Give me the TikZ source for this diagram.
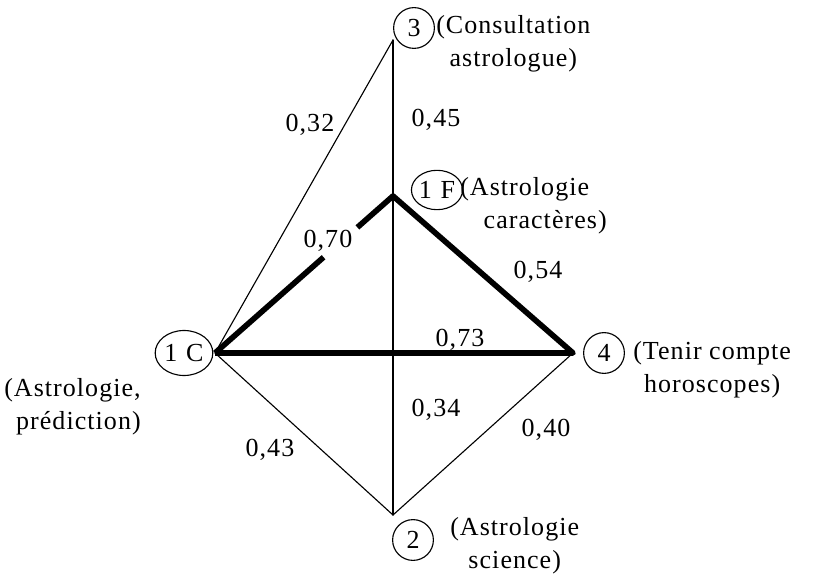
\documentclass[tikz,border=0pt]{standalone}
\usepackage{fontspec}
\setmainfont[LetterSpace=4]{Liberation Serif}
\usetikzlibrary{positioning,shapes.geometric,calc}

\begin{document}
\begin{tikzpicture}[x=0.025cm, y=-0.025cm, line cap=round, line join=round, every node/.style={font=\fontsize{18.5}{23.5}\selectfont}]
\useasboundingbox (0,0) rectangle (826,576);
% vertices of the graph
\coordinate (v3) at (393,40);
\coordinate (vF) at (393,196);
\coordinate (vC) at (215,353);
\coordinate (v4) at (573,353);
\coordinate (v2) at (393,515);
% circled variables
\node[draw, ellipse, thick, inner sep=0pt, minimum width=29pt, minimum height=29pt] (c3) at (414,28) {3};
\node[draw, ellipse, thick, inner sep=0pt, minimum width=34pt, minimum height=28pt] (cF) at (437,190) {1\,\,F};
\node[draw, ellipse, thick, inner sep=0pt, minimum width=41pt, minimum height=32pt] (cC) at (184,353) {1\,\,C};
\node[draw, ellipse, thick, inner sep=0pt, minimum width=29pt, minimum height=29pt] (c4) at (604,353) {4};
\node[draw, ellipse, thick, inner sep=0pt, minimum width=29pt, minimum height=29pt] (c2) at (413,540) {2};
% descriptions
\node[anchor=west, align=center, inner sep=0pt] (d3) at (436,44) {(Consultation\\astrologue)};
\node[anchor=west, align=left, inner sep=0pt] (dF) at (460,206) {(Astrologie\\\hspace*{0.9em}caractères)};
\node[anchor=east, align=right, inner sep=0pt] (dC) at (141,407) {(Astrologie,\\prédiction)};
\node[anchor=west, align=center, inner sep=0pt] (d4) at (633,370) {(Tenir compte\\horoscopes)};
\node[anchor=west, align=center, inner sep=0pt] (d2) at (450,546) {(Astrologie\\science)};
% thin links
\draw[thick] (vC) -- (v3);
\draw[thick] (v3) -- (v2);
\draw[thick] (vC) -- (v2);
\draw[thick] (v4) -- (v2);
% strong links
\coordinate (g1) at ($(vC)!0.61!(vF)$);
\coordinate (g2) at ($(vC)!0.80!(vF)$);
\draw[line width=4pt, line cap=butt] (vC) -- (g1);
\draw[line width=4pt, line cap=butt] (g2) -- (vF) -- (v4) -- (vC);
% coefficients
\node (k32) at (310,125) {0,32};
\node (k45) at (436,120) {0,45};
\node (k70) at (328,241) {0,70};
\node (k54) at (538,272) {0,54};
\node (k73) at (460,340) {0,73};
\node (k34) at (436,410) {0,34};
\node (k40) at (546,430) {0,40};
\node (k43) at (270,450) {0,43};
\end{tikzpicture}
\end{document}
